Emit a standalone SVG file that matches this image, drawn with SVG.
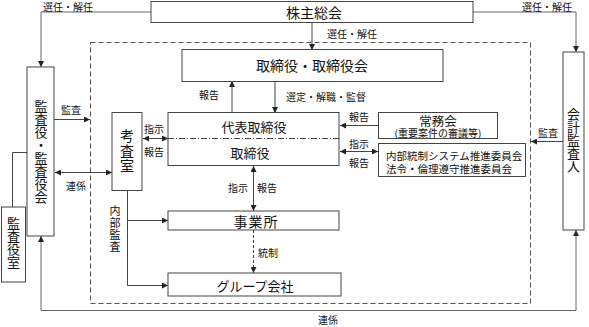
<svg xmlns="http://www.w3.org/2000/svg" width="589" height="327" viewBox="0 0 589 327">
<defs>
<marker id="ah" viewBox="0 0 8 8" refX="8" refY="4" markerWidth="6" markerHeight="6" orient="auto-start-reverse" markerUnits="userSpaceOnUse">
<path d="M0,0 L8,4 L0,8 Z" fill="#222"/>
</marker>
<style>
.box{fill:#fff;stroke:#444;stroke-width:1}
.ln{fill:none;stroke:#444;stroke-width:1}
.gl{fill:none;stroke:#666;stroke-width:1}
.t{font-family:"Noto Sans CJK JP","Noto Sans",sans-serif;fill:#111;text-anchor:middle;dominant-baseline:central}
.vt{font-family:"Noto Sans CJK JP","Noto Sans",sans-serif;fill:#111;text-anchor:middle;writing-mode:vertical-rl;text-orientation:upright}
.l{font-size:10px}
.m{font-size:13px}
.s{font-size:10px}
</style>
</defs>
<rect x="0" y="0" width="589" height="327" fill="#fff"/>

<g id="boundary">
<rect x="90.5" y="42.5" width="440" height="261" fill="none" stroke="#555" stroke-dasharray="5,3"/>
</g>

<g id="connectors">
<polyline class="gl" points="151,12 41,12 41,67" marker-end="url(#ah)"/>
<polyline class="gl" points="473,12 576,12 576,52" marker-end="url(#ah)"/>
<line class="ln" x1="312" y1="22" x2="312" y2="50" marker-end="url(#ah)"/>
<line class="ln" x1="232" y1="113" x2="232" y2="81" marker-end="url(#ah)"/>
<line class="ln" x1="275" y1="81" x2="275" y2="113" marker-end="url(#ah)"/>
<line class="ln" x1="54" y1="119.5" x2="90" y2="119.5" marker-end="url(#ah)"/>
<line class="ln" x1="55" y1="172.5" x2="112" y2="172.5" marker-start="url(#ah)" marker-end="url(#ah)"/>
<polyline class="ln" points="12.5,207 12.5,152.5 27,152.5"/>
<line class="ln" x1="143" y1="138.5" x2="168" y2="138.5" marker-start="url(#ah)" marker-end="url(#ah)"/>
<line class="ln" x1="378" y1="125.5" x2="340" y2="125.5" marker-end="url(#ah)"/>
<line class="ln" x1="340" y1="151.5" x2="378" y2="151.5" marker-start="url(#ah)" marker-end="url(#ah)"/>
<line class="ln" x1="563" y1="141.5" x2="531" y2="141.5" marker-end="url(#ah)"/>
<line class="ln" x1="253.5" y1="166" x2="253.5" y2="211" marker-start="url(#ah)" marker-end="url(#ah)"/>
<line class="ln" x1="253.5" y1="230" x2="253.5" y2="273" stroke-dasharray="3,2" marker-end="url(#ah)"/>
<polyline class="ln" points="127.5,191 127.5,285.5 168,285.5" marker-end="url(#ah)"/>
<line class="ln" x1="127.5" y1="220.5" x2="168" y2="220.5" marker-end="url(#ah)"/>
<polyline class="gl" points="41,236 41,310.5 576,310.5 576,230" marker-start="url(#ah)" marker-end="url(#ah)"/>
</g>

<g id="labels">
<text class="t l" x="68" y="6">選任・解任</text>
<text class="t l" x="547" y="6">選任・解任</text>
<text class="t l" x="352" y="33">選任・解任</text>
<text class="t l" x="209" y="94">報告</text>
<text class="t l" x="326" y="96">選定・解職・監督</text>
<text class="t l" x="71" y="109">監査</text>
<text class="t l" x="76" y="185">連係</text>
<text class="t l" x="154" y="128">指示</text>
<text class="t l" x="154" y="151">報告</text>
<text class="t l" x="359" y="116">報告</text>
<text class="t l" x="359" y="143">指示</text>
<text class="t l" x="359" y="162">報告</text>
<text class="t l" x="548" y="132">監査</text>
<text class="t l" x="238" y="187">指示</text>
<text class="t l" x="267" y="187">報告</text>
<text class="t l" x="268" y="252">統制</text>
<text class="t l" x="328" y="319">連係</text>
<text class="vt" x="115" y="229" style="font-size:11px;letter-spacing:1px">内部監査</text>
</g>

<g id="kabunushi">
<rect class="box" x="151" y="1.5" width="322" height="21"/>
<text class="t m" x="314" y="12" style="font-size:14px">株主総会</text>
</g>

<g id="torishimariyakukai">
<rect class="box" x="182" y="49.5" width="261" height="32"/>
<text class="t m" x="312" y="65" style="font-size:14px">取締役・取締役会</text>
</g>

<g id="daihyo">
<rect class="box" x="168" y="112.5" width="171" height="53"/>
<line x1="168" y1="138.5" x2="339" y2="138.5" stroke="#444" stroke-dasharray="6,2,1,2"/>
<text class="t m" x="254" y="126">代表取締役</text>
<text class="t m" x="250" y="152">取締役</text>
</g>

<g id="kansayaku">
<rect class="box" x="27" y="67" width="27" height="169"/>
<text class="vt" x="41" y="152" style="font-size:13px">監査役・監査役会</text>
</g>

<g id="kansayakushitsu">
<rect class="box" x="1.5" y="207" width="24" height="75"/>
<text class="vt" x="13.5" y="243" style="font-size:13px">監査役室</text>
</g>

<g id="kosashitsu">
<rect class="box" x="112" y="112.5" width="30" height="78"/>
<text class="vt" x="127" y="151" style="font-size:14px;letter-spacing:1px">考査室</text>
</g>

<g id="jomukai">
<rect class="box" x="378.5" y="112.5" width="119" height="26"/>
<text class="t" x="438"><tspan x="438" y="119.5" style="font-size:12.5px">常務会</tspan><tspan x="438" y="132" style="font-size:10px">(重要案件の審議等)</tspan></text>
</g>

<g id="naibutosei">
<rect class="box" x="378.5" y="143.5" width="147" height="33"/>
<text class="t s" style="text-anchor:start;font-size:10.5px"><tspan x="386" y="155">内部統制システム推進委員会</tspan><tspan x="386" y="168">法令・倫理遵守推進委員会</tspan></text>
</g>

<g id="kaikeikansanin">
<rect class="box" x="563" y="52" width="21" height="178"/>
<text class="vt" x="573.5" y="140" style="font-size:13px">会計監査人</text>
</g>

<g id="jigyosho">
<rect class="box" x="168" y="211" width="171" height="19"/>
<text class="t m" x="256" y="220.5" style="font-size:14px;letter-spacing:1px">事業所</text>
</g>

<g id="group">
<rect class="box" x="168" y="273" width="173" height="23"/>
<text class="t m" x="255" y="285">グループ会社</text>
</g>
</svg>
